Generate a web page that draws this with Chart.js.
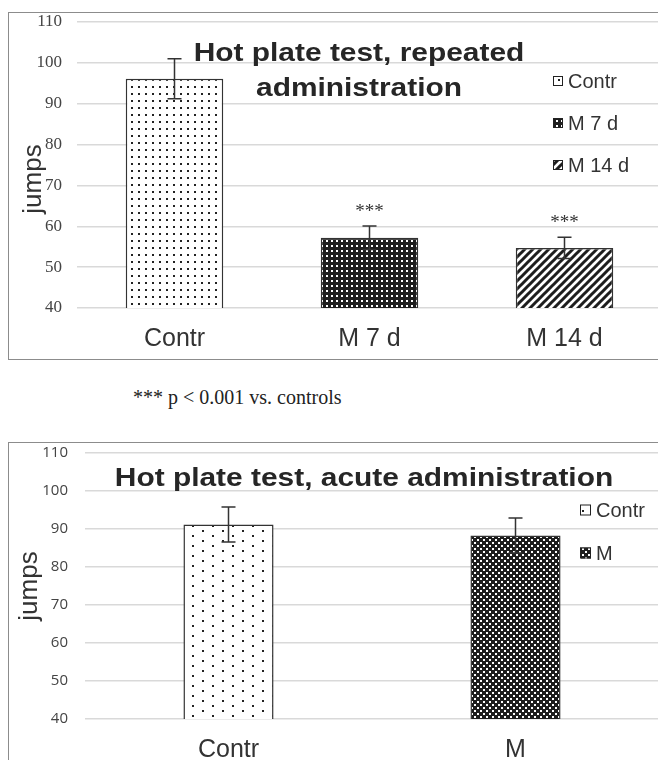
<!DOCTYPE html>
<html>
<head>
<meta charset="utf-8">
<title>Hot plate test</title>
<script src="https://cdn.jsdelivr.net/npm/chart.js"></script>
<style>
  html, body { margin: 0; padding: 0; background: #fff; overflow: hidden; width: 658px; height: 760px; }
  .frame { position: absolute; border: 1.5px solid #8c8c8c; box-sizing: border-box; }
  #frameTop { left: 8px; top: 12px; width: 680px; height: 348px; }
  #frameBottom { left: 8px; top: 442px; width: 680px; height: 340px; }
  canvas { position: absolute; }
  #topChart { left: 9px; top: 13px; }
  #bottomChart { left: 9px; top: 443px; }
  #note { position: absolute; left: 133px; top: 386px; font: 20px/23px "Liberation Serif", serif; color: #222; }
</style>
</head>
<body>
<div class="frame" id="frameTop"></div>
<div class="frame" id="frameBottom"></div>
<canvas id="topChart" width="656" height="345"></canvas>
<div id="note">*** p &lt; 0.001 vs. controls</div>
<canvas id="bottomChart" width="656" height="320"></canvas>

<script>
// repeated administration
var topLabels = ['Contr', 'M 7 d', 'M 14 d'];
var topMeans = [96.1, 57.2, 54.7];
var topErrors = [4.9, 2.9, 2.6];
var topStars = ['', '***', '***'];

// acute administration
var bottomLabels = ['Contr', 'M'];
var bottomMeans = [91.2, 88.3];
var bottomErrors = [4.6, 4.6];

var yMin = 40, yMax = 110, yStep = 10;

function pattern(w, h, paint) {
    var c = document.createElement('canvas');
    c.width = w; c.height = h;
    var g = c.getContext('2d');
    paint(g, w, h);
    return g.createPattern(c, 'repeat');
}

var dotsFine = pattern(7, 7, function (g) {
    g.fillStyle = '#fff'; g.fillRect(0, 0, 7, 7);
    g.fillStyle = '#222'; g.fillRect(3, 3, 2, 2);
});
var gridDark = pattern(5, 5, function (g) {
    g.fillStyle = '#1e1e1e'; g.fillRect(0, 0, 5, 5);
    g.fillStyle = '#fff'; g.fillRect(2, 2, 2, 2);
});
var stripes = pattern(8, 8, function (g) {
    g.fillStyle = '#fff'; g.fillRect(0, 0, 8, 8);
    g.strokeStyle = '#1e1e1e'; g.lineWidth = 3;
    g.beginPath();
    g.moveTo(-1, 9); g.lineTo(9, -1);
    g.moveTo(-5, 5); g.lineTo(5, -5);
    g.moveTo(3, 13); g.lineTo(13, 3);
    g.stroke();
});
var dotsSparse = pattern(20, 10, function (g) {
    g.fillStyle = '#fff'; g.fillRect(0, 0, 20, 10);
    g.fillStyle = '#222'; g.fillRect(3, 2, 2, 2); g.fillRect(13, 7, 2, 2);
});
var checkDark = pattern(6, 6, function (g) {
    g.fillStyle = '#1e1e1e'; g.fillRect(0, 0, 6, 6);
    g.fillStyle = '#fff'; g.fillRect(0, 0, 2, 2); g.fillRect(3, 3, 2, 2);
});

// error bars, stars, title, legend and axis title
var overlay = {
    id: 'overlay',
    afterDatasetsDraw: function (chart, args, o) {
        var ctx = chart.ctx;
        var y = chart.scales.y;
        var ds = chart.data.datasets[0];
        var meta = chart.getDatasetMeta(0);
        ctx.save();
        ctx.strokeStyle = '#333';
        ctx.lineWidth = 1.5;
        o.errors.forEach(function (e, i) {
            var x = meta.data[i].x;
            var v = ds.data[i];
            var yt = y.getPixelForValue(v + e), yb = y.getPixelForValue(v - e);
            ctx.beginPath();
            ctx.moveTo(x, yt); ctx.lineTo(x, yb);
            ctx.moveTo(x - 7, yt); ctx.lineTo(x + 7, yt);
            ctx.moveTo(x - 7, yb); ctx.lineTo(x + 7, yb);
            ctx.stroke();
            if (o.stars && o.stars[i]) {
                ctx.fillStyle = '#333';
                ctx.font = '19px "Liberation Serif"';
                ctx.textAlign = 'center';
                ctx.textBaseline = 'alphabetic';
                ctx.fillText(o.stars[i], x, yt - 9);
            }
        });

        // the original title is set a bit wide
        ctx.fillStyle = '#262626';
        ctx.font = 'bold ' + o.titleSize + 'px "Liberation Sans"';
        ctx.textAlign = 'center';
        ctx.textBaseline = 'alphabetic';
        o.title.forEach(function (line, i) {
            ctx.save();
            ctx.translate(o.titleX, o.titleY + i * 35);
            ctx.scale(1.15, 1);
            ctx.fillText(line, 0, 0);
            ctx.restore();
        });

        ctx.font = '20px "Liberation Sans"';
        ctx.textAlign = 'left';
        ctx.textBaseline = 'middle';
        ctx.lineWidth = 1;
        chart.data.labels.forEach(function (lab, i) {
            var ly = o.legendY + i * o.legendGap;
            var s = o.legendBox;
            ctx.fillStyle = ds.backgroundColor[i];
            ctx.fillRect(o.legendX, ly - s / 2, s, s);
            ctx.strokeStyle = '#222';
            ctx.strokeRect(o.legendX + 0.5, ly - s / 2 + 0.5, s - 1, s - 1);
            ctx.fillStyle = '#333';
            ctx.fillText(lab, o.legendX + s + 5, ly + 1);
        });

        ctx.translate(o.axisTitleX, o.axisTitleY);
        ctx.rotate(-Math.PI / 2);
        ctx.font = '26px "Liberation Sans"';
        ctx.textAlign = 'center';
        ctx.fillStyle = '#333';
        ctx.fillText('jumps', 0, 0);
        ctx.restore();
    }
};

function makeChart(id, labels, means, fills, barPct, yW, xH, pad, tickFont, tickPad, labelPad, extra) {
    return new Chart(document.getElementById(id), {
        type: 'bar',
        data: {
            labels: labels,
            datasets: [{
                data: means,
                backgroundColor: fills,
                borderColor: '#333',
                borderWidth: 1.5,
                borderSkipped: 'bottom',
                barPercentage: barPct,
                categoryPercentage: 1
            }]
        },
        options: {
            responsive: false,
            animation: false,
            layout: { padding: pad },
            scales: {
                x: {
                    grid: { display: false, drawTicks: false },
                    border: { display: false },
                    ticks: { color: '#333', font: { family: 'Liberation Sans', size: 25 }, padding: labelPad },
                    afterFit: function (s) { s.height = xH; s.paddingLeft = 0; s.paddingRight = 0; }
                },
                y: {
                    min: yMin, max: yMax,
                    grid: { color: '#d9d9d9', lineWidth: 1.5, drawTicks: false },
                    border: { display: false },
                    ticks: { stepSize: yStep, color: '#444', font: tickFont, padding: tickPad },
                    afterFit: function (s) { s.width = yW; s.paddingTop = 0; s.paddingBottom = 0; }
                }
            },
            plugins: {
                legend: { display: false },
                tooltip: { enabled: false },
                overlay: extra
            }
        },
        plugins: [overlay]
    });
}

makeChart('topChart', topLabels, topMeans, [dotsFine, gridDark, stripes], 0.5,
    68, 50, { top: 9, right: 3 }, { family: '"Liberation Serif", serif', size: 17 }, 15, 16, {
        errors: topErrors, stars: topStars,
        title: ['Hot plate test, repeated', 'administration'], titleSize: 26, titleX: 350, titleY: 48,
        legendX: 544, legendY: 68, legendGap: 42, legendBox: 10,
        axisTitleX: 25, axisTitleY: 166
    });

makeChart('bottomChart', bottomLabels, bottomMeans, [dotsSparse, checkDark], 0.314,
    76, 44, { top: 10, right: 6 }, { family: '"Open Sans", sans-serif', size: 15 }, 17, 16, {
        errors: bottomErrors,
        title: ['Hot plate test, acute administration'], titleSize: 26, titleX: 355, titleY: 43,
        legendX: 571, legendY: 67, legendGap: 43, legendBox: 11,
        axisTitleX: 21, axisTitleY: 143
    });
</script>
</body>
</html>
